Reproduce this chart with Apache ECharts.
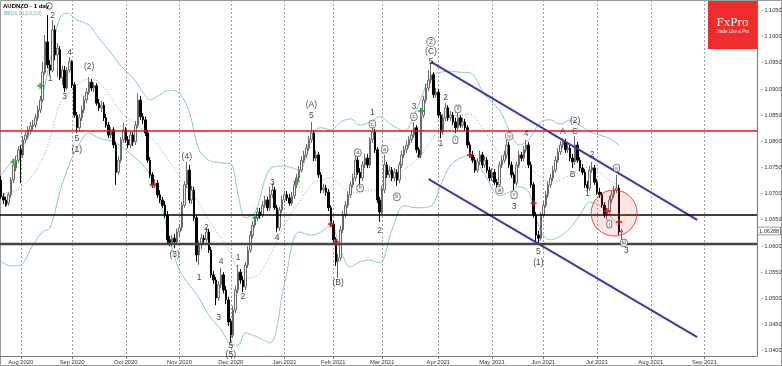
<!DOCTYPE html>
<html><head><meta charset="utf-8">
<script src="https://cdn.jsdelivr.net/npm/echarts/dist/echarts.min.js"></script>
<style>html,body{margin:0;padding:0;background:#fff;}#c{width:782px;height:366px;}</style>
</head><body><div id="c"></div>
<script>
// ---- calendar (daily trading days) ----
const startDate = [2020, 6, 22];
const categoryCount = 310;
const holidays = ['2020-12-25', '2021-01-01'];
const monthNames = ['Jan','Feb','Mar','Apr','May','Jun','Jul','Aug','Sep','Oct','Nov','Dec'];

// ---- AUDNZD daily candles ----
const opens = [
1.0726,1.0694,1.0688,1.0682,1.0698,1.0726,1.0749,1.0764,1.0784,1.0774,
1.0803,1.0812,1.0822,1.0829,1.0831,1.0845,1.0860,1.0879,1.0932,1.0990,
1.0946,1.0936,1.1013,1.0965,1.0975,1.0921,1.0936,1.0902,1.0936,1.0952,
1.0908,1.0850,1.0826,1.0845,1.0860,1.0879,1.0894,1.0913,1.0902,1.0906,
1.0873,1.0864,1.0869,1.0845,1.0831,1.0812,1.0822,1.0793,1.0741,1.0764,
1.0803,1.0822,1.0803,1.0793,1.0812,1.0799,1.0831,1.0879,1.0847,1.0841,
1.0816,1.0764,1.0736,1.0717,1.0720,1.0698,1.0688,1.0678,1.0659,1.0612,
1.0606,1.0615,1.0608,1.0627,1.0635,1.0678,1.0717,1.0745,1.0688,1.0707,
1.0654,1.0583,1.0602,1.0615,1.0612,1.0627,1.0592,1.0545,1.0535,1.0501,
1.0526,1.0545,1.0516,1.0497,1.0455,1.0430,1.0478,1.0516,1.0550,1.0535,
1.0522,1.0564,1.0592,1.0621,1.0640,1.0654,1.0665,1.0659,1.0678,1.0688,
1.0673,1.0698,1.0707,1.0673,1.0635,1.0669,1.0688,1.0698,1.0692,1.0682,
1.0696,1.0717,1.0730,1.0745,1.0764,1.0774,1.0787,1.0803,1.0816,1.0768,
1.0774,1.0736,1.0707,1.0711,1.0703,1.0673,1.0642,1.0612,1.0570,1.0577,
1.0631,1.0659,1.0678,1.0698,1.0717,1.0730,1.0764,1.0741,1.0730,1.0755,
1.0768,1.0755,1.0803,1.0818,1.0784,1.0688,1.0665,1.0707,1.0755,1.0736,
1.0745,1.0730,1.0741,1.0726,1.0755,1.0774,1.0784,1.0793,1.0803,1.0812,
1.0826,1.0784,1.0774,1.0850,1.0879,1.0902,1.0917,1.0927,1.0889,1.0894,
1.0850,1.0818,1.0845,1.0864,1.0845,1.0850,1.0837,1.0826,1.0845,1.0831,
1.0837,1.0826,1.0793,1.0774,1.0764,1.0745,1.0761,1.0774,1.0755,1.0764,
1.0745,1.0730,1.0741,1.0722,1.0717,1.0755,1.0764,1.0774,1.0793,1.0755,
1.0736,1.0720,1.0755,1.0774,1.0768,1.0784,1.0793,1.0755,1.0717,1.0659,
1.0621,1.0615,1.0659,1.0678,1.0698,1.0717,1.0730,1.0745,1.0764,1.0780,
1.0793,1.0799,1.0784,1.0787,1.0768,1.0761,1.0793,1.0764,1.0749,1.0741,
1.0717,1.0711,1.0745,1.0749,1.0722,1.0703,1.0698,1.0678,1.0659,1.0665,
1.0688,1.0698,1.0707,1.0711,1.0627];
const closes = [
1.0694,1.0688,1.0678,1.0698,1.0726,1.0755,1.0764,1.0784,1.0774,1.0803,
1.0812,1.0822,1.0829,1.0831,1.0845,1.0860,1.0879,1.0932,1.0990,1.0946,
1.0936,1.1013,1.0965,1.0978,1.0921,1.0936,1.0902,1.0936,1.0952,1.0908,
1.0850,1.0826,1.0845,1.0860,1.0879,1.0894,1.0913,1.0902,1.0906,1.0873,
1.0864,1.0869,1.0845,1.0831,1.0812,1.0822,1.0793,1.0741,1.0764,1.0803,
1.0822,1.0803,1.0793,1.0812,1.0799,1.0831,1.0879,1.0847,1.0841,1.0816,
1.0764,1.0736,1.0717,1.0720,1.0698,1.0688,1.0678,1.0659,1.0612,1.0606,
1.0615,1.0608,1.0627,1.0635,1.0678,1.0717,1.0745,1.0688,1.0707,1.0654,
1.0583,1.0602,1.0615,1.0612,1.0627,1.0592,1.0545,1.0535,1.0501,1.0526,
1.0545,1.0516,1.0497,1.0455,1.0430,1.0478,1.0516,1.0550,1.0535,1.0522,
1.0564,1.0592,1.0621,1.0640,1.0654,1.0665,1.0659,1.0678,1.0688,1.0673,
1.0698,1.0707,1.0673,1.0635,1.0669,1.0688,1.0698,1.0692,1.0682,1.0696,
1.0717,1.0730,1.0745,1.0764,1.0774,1.0787,1.0803,1.0816,1.0768,1.0774,
1.0736,1.0707,1.0711,1.0703,1.0673,1.0642,1.0612,1.0570,1.0577,1.0631,
1.0659,1.0678,1.0698,1.0717,1.0730,1.0764,1.0741,1.0730,1.0755,1.0768,
1.0755,1.0803,1.0818,1.0784,1.0688,1.0665,1.0707,1.0755,1.0736,1.0745,
1.0730,1.0741,1.0726,1.0755,1.0774,1.0784,1.0793,1.0803,1.0812,1.0826,
1.0784,1.0774,1.0850,1.0879,1.0902,1.0917,1.0927,1.0889,1.0894,1.0850,
1.0818,1.0845,1.0864,1.0845,1.0850,1.0837,1.0826,1.0845,1.0831,1.0837,
1.0826,1.0793,1.0774,1.0764,1.0745,1.0761,1.0774,1.0755,1.0764,1.0745,
1.0730,1.0741,1.0722,1.0717,1.0755,1.0764,1.0774,1.0793,1.0755,1.0736,
1.0720,1.0755,1.0774,1.0768,1.0784,1.0793,1.0755,1.0717,1.0659,1.0621,
1.0615,1.0659,1.0678,1.0698,1.0717,1.0730,1.0745,1.0764,1.0780,1.0793,
1.0799,1.0784,1.0787,1.0768,1.0761,1.0793,1.0764,1.0749,1.0741,1.0717,
1.0711,1.0745,1.0749,1.0722,1.0703,1.0698,1.0678,1.0659,1.0665,1.0688,
1.0698,1.0707,1.0711,1.0627,1.0629];
const highs = [
1.0734,1.0701,1.0694,1.0703,1.0732,1.0761,1.0772,1.0791,1.0793,1.0810,
1.0820,1.0829,1.0837,1.0841,1.0852,1.0868,1.0887,1.0952,1.1003,1.1041,
1.0955,1.1032,1.1022,1.0988,1.0982,1.0944,1.0944,1.0942,1.0961,1.0955,
1.0913,1.0856,1.0852,1.0868,1.0887,1.0902,1.0923,1.0919,1.0913,1.0911,
1.0881,1.0877,1.0875,1.0852,1.0837,1.0827,1.0827,1.0799,1.0772,1.0808,
1.0835,1.0827,1.0810,1.0820,1.0818,1.0839,1.0892,1.0887,1.0854,1.0847,
1.0822,1.0770,1.0741,1.0728,1.0726,1.0707,1.0694,1.0686,1.0667,1.0619,
1.0621,1.0623,1.0633,1.0642,1.0684,1.0724,1.0761,1.0755,1.0715,1.0713,
1.0659,1.0610,1.0623,1.0621,1.0635,1.0633,1.0598,1.0552,1.0541,1.0533,
1.0558,1.0550,1.0524,1.0503,1.0461,1.0486,1.0524,1.0564,1.0556,1.0543,
1.0570,1.0600,1.0629,1.0648,1.0661,1.0673,1.0673,1.0686,1.0696,1.0694,
1.0713,1.0720,1.0713,1.0678,1.0675,1.0696,1.0705,1.0705,1.0699,1.0703,
1.0724,1.0738,1.0753,1.0772,1.0782,1.0795,1.0810,1.0837,1.0822,1.0782,
1.0780,1.0741,1.0719,1.0717,1.0709,1.0678,1.0648,1.0617,1.0585,1.0638,
1.0667,1.0686,1.0705,1.0724,1.0738,1.0784,1.0770,1.0749,1.0762,1.0776,
1.0776,1.0808,1.0829,1.0824,1.0789,1.0694,1.0715,1.0774,1.0761,1.0753,
1.0751,1.0749,1.0747,1.0761,1.0782,1.0791,1.0801,1.0810,1.0822,1.0837,
1.0831,1.0789,1.0864,1.0887,1.0910,1.0936,1.0950,1.0932,1.0902,1.0900,
1.0856,1.0852,1.0873,1.0869,1.0858,1.0856,1.0845,1.0854,1.0850,1.0845,
1.0843,1.0831,1.0799,1.0782,1.0770,1.0768,1.0782,1.0780,1.0772,1.0770,
1.0751,1.0749,1.0747,1.0728,1.0761,1.0772,1.0782,1.0803,1.0799,1.0761,
1.0741,1.0761,1.0782,1.0780,1.0791,1.0803,1.0799,1.0761,1.0722,1.0665,
1.0629,1.0665,1.0686,1.0705,1.0724,1.0738,1.0753,1.0772,1.0787,1.0801,
1.0806,1.0805,1.0795,1.0793,1.0776,1.0810,1.0799,1.0770,1.0757,1.0747,
1.0724,1.0753,1.0761,1.0755,1.0728,1.0711,1.0703,1.0684,1.0673,1.0696,
1.0705,1.0715,1.0736,1.0717,1.0633];
const lows = [
1.0690,1.0680,1.0675,1.0677,1.0692,1.0720,1.0743,1.0759,1.0720,1.0768,
1.0797,1.0806,1.0814,1.0822,1.0826,1.0839,1.0854,1.0875,1.0927,1.0940,
1.0927,1.0932,1.0955,1.0923,1.0917,1.0908,1.0894,1.0898,1.0931,1.0902,
1.0845,1.0816,1.0818,1.0839,1.0854,1.0873,1.0889,1.0896,1.0894,1.0868,
1.0858,1.0856,1.0839,1.0826,1.0806,1.0806,1.0787,1.0717,1.0736,1.0759,
1.0797,1.0797,1.0787,1.0787,1.0791,1.0793,1.0826,1.0841,1.0833,1.0810,
1.0759,1.0730,1.0711,1.0711,1.0692,1.0682,1.0673,1.0654,1.0602,1.0600,
1.0598,1.0596,1.0602,1.0619,1.0629,1.0673,1.0711,1.0682,1.0680,1.0648,
1.0570,1.0564,1.0594,1.0604,1.0606,1.0587,1.0539,1.0528,1.0487,1.0495,
1.0520,1.0510,1.0489,1.0447,1.0417,1.0424,1.0472,1.0510,1.0528,1.0512,
1.0516,1.0558,1.0587,1.0615,1.0635,1.0648,1.0652,1.0654,1.0673,1.0667,
1.0667,1.0692,1.0669,1.0627,1.0629,1.0663,1.0682,1.0686,1.0677,1.0677,
1.0690,1.0711,1.0724,1.0740,1.0759,1.0768,1.0782,1.0797,1.0762,1.0762,
1.0730,1.0701,1.0701,1.0696,1.0667,1.0636,1.0606,1.0562,1.0539,1.0571,
1.0625,1.0654,1.0673,1.0692,1.0711,1.0724,1.0736,1.0715,1.0724,1.0749,
1.0749,1.0749,1.0797,1.0778,1.0682,1.0646,1.0659,1.0701,1.0730,1.0730,
1.0724,1.0724,1.0715,1.0720,1.0749,1.0768,1.0778,1.0787,1.0797,1.0806,
1.0778,1.0768,1.0768,1.0845,1.0873,1.0896,1.0911,1.0883,1.0883,1.0845,
1.0806,1.0812,1.0839,1.0839,1.0839,1.0831,1.0816,1.0820,1.0826,1.0826,
1.0820,1.0787,1.0768,1.0759,1.0740,1.0740,1.0755,1.0749,1.0749,1.0740,
1.0724,1.0724,1.0717,1.0711,1.0711,1.0749,1.0759,1.0768,1.0749,1.0730,
1.0707,1.0715,1.0749,1.0762,1.0762,1.0778,1.0749,1.0711,1.0654,1.0606,
1.0602,1.0610,1.0654,1.0673,1.0692,1.0711,1.0724,1.0740,1.0759,1.0774,
1.0787,1.0778,1.0778,1.0762,1.0749,1.0755,1.0759,1.0743,1.0736,1.0711,
1.0707,1.0705,1.0740,1.0717,1.0698,1.0692,1.0673,1.0654,1.0650,1.0659,
1.0682,1.0692,1.0701,1.0621,1.0612];

// ---- Bollinger band (20, 2.0) points ----
const bbIdx = [0,4,8,13,17,20,24,27,31,36,40,45,49,54,58,61,65,69,73,77,81,85,90,94,97,100,104,110,116,122,127,131,135,139,143,147,151,155,160,165,170,176,180,184,188,192,198,204,208,212,216,221,225,229,233,237,241,245,249,253];
const bbUpper = [1.0736,1.0759,1.0784,1.0826,1.0889,1.0955,1.1036,1.1045,1.1032,1.1022,1.0997,1.0969,1.0944,1.0921,1.0894,1.0879,1.0889,1.0898,1.0892,1.0856,1.0784,1.0764,1.0759,1.0757,1.0698,1.0654,1.0665,1.0747,1.0753,1.0745,1.0812,1.0826,1.0822,1.0837,1.0843,1.0831,1.0837,1.0847,1.0831,1.0820,1.0860,1.0925,1.0932,1.0934,1.0932,1.0931,1.0889,1.0860,1.0822,1.0793,1.0803,1.0837,1.0841,1.0833,1.0841,1.0831,1.0818,1.0812,1.0806,1.0793];
const bbMiddle = [1.0698,1.0703,1.0711,1.0736,1.0768,1.0806,1.0871,1.0889,1.0908,1.0919,1.0913,1.0883,1.0856,1.0837,1.0822,1.0808,1.0787,1.0761,1.0734,1.0707,1.0682,1.0650,1.0615,1.0585,1.0554,1.0539,1.0541,1.0581,1.0640,1.0684,1.0717,1.0726,1.0730,1.0717,1.0701,1.0703,1.0707,1.0707,1.0730,1.0747,1.0764,1.0801,1.0826,1.0845,1.0850,1.0852,1.0818,1.0778,1.0764,1.0753,1.0749,1.0732,1.0722,1.0726,1.0736,1.0745,1.0751,1.0741,1.0726,1.0715];
const bbLower = [1.0570,1.0562,1.0564,1.0602,1.0627,1.0635,1.0703,1.0745,1.0787,1.0816,1.0806,1.0801,1.0791,1.0772,1.0755,1.0736,1.0688,1.0612,1.0554,1.0526,1.0501,1.0468,1.0440,1.0413,1.0411,1.0434,1.0428,1.0415,1.0528,1.0627,1.0621,1.0627,1.0640,1.0592,1.0560,1.0570,1.0573,1.0568,1.0631,1.0677,1.0673,1.0677,1.0717,1.0755,1.0768,1.0774,1.0736,1.0696,1.0703,1.0713,1.0703,1.0627,1.0612,1.0619,1.0635,1.0659,1.0684,1.0678,1.0659,1.0636];

// ---- levels, channel, marks ----
const levelRed = 1.0820;
const levelBlack = 1.0659;
const levelGray = 1.0605;
const lastPrice = 1.06288;
const channelUpperIdx = [176, 285];
const channelUpper = [1.0952, 1.0650];
const channelLowerIdx = [175, 285];
const channelLower = [1.0728, 1.0426];
const circleIdx = [251];
const circlePrice = [1.0663];
const greenStarIdx = [5,16,104,121,172];
const greenStarVal = [1.0761,1.0906,1.0654,1.0724,1.0858];
const redStarIdx = [62,135,137,192,218,248,253];
const redStarVal = [1.0717,1.0642,1.0608,1.0774,1.0682,1.0667,1.0646];

// ---- Elliott wave labels ----
const waveText = ['2','1','3','4','5','(1)','(2)','(3)','(4)','1','2','3','4','5','(5)','1','2','3','4','5','(A)','(B)','1','2','3','4','5','(C)','1','2','3','4','5','(1)','A','(2)','C','B','1','2','3'];
const waveIdx = [21,20,26,28,31,31,36,71,76,81,84,89,90,94,94,97,99,111,113,127,127,138,152,155,169,171,176,176,180,182,210,215,220,220,230,235,235,234,240,242,256];
const waveVal = [1.1041,1.0919,1.0885,1.0969,1.0806,1.0784,1.0942,1.0583,1.0770,1.0539,1.0636,1.0463,1.0571,1.0409,1.0393,1.0577,1.0503,1.0722,1.0617,1.0850,1.0871,1.0531,1.0854,1.0629,1.0866,1.0772,1.0953,1.0971,1.0795,1.0883,1.0675,1.0814,1.0589,1.0568,1.0818,1.0839,1.0818,1.0736,1.0701,1.0774,1.0592];
const circText = ['a','b','c','a','b','c','2','i','ii','iii','iv','v','i','ii','iii'];
const circIdx = [146,147,152,157,162,169,176,186,187,204,208,210,249,252,255];
const circVal = [1.0778,1.0711,1.0833,1.0785,1.0694,1.0847,1.0990,1.0803,1.0862,1.0707,1.0810,1.0698,1.0642,1.0749,1.0606];

// ---- build ----
const dates = [];
(function () {
  let t = Date.UTC(startDate[0], startDate[1], startDate[2]);
  while (dates.length < categoryCount) {
    const d = new Date(t);
    const s = d.toISOString().slice(0, 10);
    const wd = d.getUTCDay();
    if (wd !== 0 && wd !== 6 && holidays.indexOf(s) < 0) dates.push(s);
    t += 86400000;
  }
})();
function isMonthStart(i) { return i > 0 && dates[i].slice(0, 7) !== dates[i - 1].slice(0, 7); }
const pairs = (xs, ys) => xs.map((x, i) => [x, ys[i]]);

const FONT = 'Liberation Sans, Arial, sans-serif';
const chart = echarts.init(document.getElementById('c'), null, { renderer: 'canvas' });
const bandLine = (data, style) => ({
  type: 'line', data: data, showSymbol: false, symbol: 'none', smooth: 0.35, silent: true, z: 1,
  lineStyle: style
});
const plusPath = 'path://M2,0h2v2h2v2h-2v2h-2v-2h-2v-2h2z';

chart.setOption({
  animation: false,
  backgroundColor: '#ffffff',
  grid: { left: 0, right: 25, top: 0, bottom: 10, containLabel: false, outerBoundsMode: 'none' },
  xAxis: {
    type: 'category', data: dates, boundaryGap: true,
    axisLine: { show: true, lineStyle: { color: '#777', width: 1 } },
    axisTick: { show: true, alignWithLabel: true, interval: (i) => isMonthStart(i), length: 3, lineStyle: { color: '#777' } },
    axisLabel: {
      interval: (i) => isMonthStart(i),
      formatter: (v) => monthNames[+v.slice(5, 7) - 1] + ' ' + v.slice(0, 4),
      fontSize: 5.8, color: '#333', margin: 3, fontFamily: FONT
    },
    splitLine: { show: true, alignWithLabel: true, interval: (i) => isMonthStart(i), lineStyle: { color: '#a0a0a0', type: [2, 2], width: 1 } }
  },
  yAxis: {
    type: 'value', position: 'right', min: 1.039, max: 1.107, interval: 0.001,
    axisLine: { show: true, lineStyle: { color: '#777', width: 1 } },
    axisTick: { show: false },
    splitLine: { show: false },
    axisLabel: {
      fontSize: 5.6, color: '#333', margin: 4, fontFamily: FONT,
      formatter: (v) => (Math.round(v * 1000) % 5 === 0 ? '- ' + v.toFixed(5) : '')
    }
  },
  series: [
    bandLine(pairs(bbIdx, bbUpper), { color: '#8cc9c9', width: 1 }),
    bandLine(pairs(bbIdx, bbMiddle), { color: '#8aa6a6', width: 1, type: [1, 2] }),
    bandLine(pairs(bbIdx, bbLower), { color: '#8cc9c9', width: 1 }),
    {
      type: 'candlestick', z: 3, barWidth: 2,
      data: opens.map((o, i) => [o, closes[i], lows[i], highs[i]]),
      itemStyle: { color: '#f4f4f4', color0: '#000000', borderColor: '#6a6a6a', borderColor0: '#000000', borderWidth: 1 },
      markLine: {
        silent: true, symbol: 'none', animation: false, precision: 5,
        label: { show: false },
        data: [
          { yAxis: levelRed, lineStyle: { color: '#e41414', width: 1.5, type: 'solid' } },
          { yAxis: levelBlack, lineStyle: { color: '#000000', width: 1.6, type: 'solid' } },
          { yAxis: levelGray, lineStyle: { color: '#454545', width: 2.4, type: 'solid' } }
        ]
      }
    },
    {
      type: 'line', data: [], silent: true, z: 8,
      markLine: {
        silent: true, symbol: 'none', animation: false, precision: 5,
        lineStyle: { color: 'rgba(0,0,0,0)', width: 1, type: 'solid' },
        data: [{ yAxis: lastPrice }],
        label: { show: true, position: 'end', distance: 1, formatter: lastPrice.toFixed(5),
          fontSize: 5.6, color: '#333', fontFamily: FONT, backgroundColor: '#fff',
          borderColor: '#777', borderWidth: 0.8, padding: [1, 1, 0, 1] }
      }
    },
    {
      type: 'line', data: pairs(channelUpperIdx, channelUpper), showSymbol: false, symbol: 'none', silent: true, z: 4,
      lineStyle: { color: '#3a3aa8', width: 2 }
    },
    {
      type: 'line', data: pairs(channelLowerIdx, channelLower), showSymbol: false, symbol: 'none', silent: true, z: 4,
      lineStyle: { color: '#3a3aa8', width: 2 }
    },
    {
      type: 'scatter', data: pairs(circleIdx, circlePrice), symbol: 'circle', symbolSize: 46, silent: true, z: 5,
      itemStyle: { color: 'rgba(255,70,70,0.18)', borderColor: '#ee2020', borderWidth: 1 }
    },
    {
      type: 'scatter', data: pairs(greenStarIdx, greenStarVal), symbol: plusPath, symbolSize: 6, silent: true, z: 6,
      itemStyle: { color: '#22a022' }
    },
    {
      type: 'scatter', data: pairs(redStarIdx, redStarVal), symbol: plusPath, symbolSize: 6, silent: true, z: 6,
      itemStyle: { color: '#d41a1a' }
    },
    {
      type: 'scatter', data: pairs(waveIdx, waveVal), symbolSize: 1, silent: true, z: 7,
      itemStyle: { color: 'rgba(0,0,0,0)' },
      label: { show: true, position: 'inside', formatter: (p) => waveText[p.dataIndex],
        fontSize: 8.5, color: '#111', fontFamily: FONT }
    },
    {
      type: 'scatter', symbolSize: 1, silent: true, z: 7,
      data: circIdx.map((x, i) => circText[i] === '2'
        ? { value: [x, circVal[i]], label: { fontSize: 7, padding: [1, 2, 0, 2] } }
        : { value: [x, circVal[i]] }),
      itemStyle: { color: 'rgba(0,0,0,0)' },
      label: { show: true, position: 'inside', formatter: (p) => circText[p.dataIndex],
        fontSize: 5.5, color: '#222', fontFamily: FONT, backgroundColor: '#fff',
        borderColor: '#555', borderWidth: 0.8, borderRadius: 5, padding: [1, 1.5, 0, 1.5] }
    }
  ],
  graphic: [
    { type: 'text', left: 3, top: 3, silent: true,
      style: { text: 'AUDNZD - 1 day', fill: '#000', font: 'bold 6px ' + FONT } },
    { type: 'circle', shape: { cx: 49, cy: 6, r: 3.2 }, silent: true,
      style: { fill: 'none', stroke: '#444', lineWidth: 0.8 } },
    { type: 'text', left: 4, top: 11, silent: true,
      style: { text: 'BB(20,20,2.0,3.0)', fill: '#62b0b0', font: '4.8px ' + FONT } },
    { type: 'rect', shape: { x: 708, y: 0, width: 49, height: 49 }, silent: true,
      style: { fill: '#ef2b2b' } },
    { type: 'text', silent: true, x: 732.5, y: 23,
      style: { text: 'FxPro', fill: '#fff', font: '13px Liberation Serif, serif', align: 'center', verticalAlign: 'middle' } },
    { type: 'text', silent: true, x: 732.5, y: 32,
      style: { text: 'Trade Like a Pro', fill: '#fff', font: '4.5px ' + FONT, align: 'center', verticalAlign: 'middle' } },
    { type: 'rect', shape: { x: 0.5, y: 0.5, width: 781, height: 365 }, silent: true,
      style: { fill: 'none', stroke: '#9a9a9a', lineWidth: 1 } }
  ]
});
</script>
</body></html>
